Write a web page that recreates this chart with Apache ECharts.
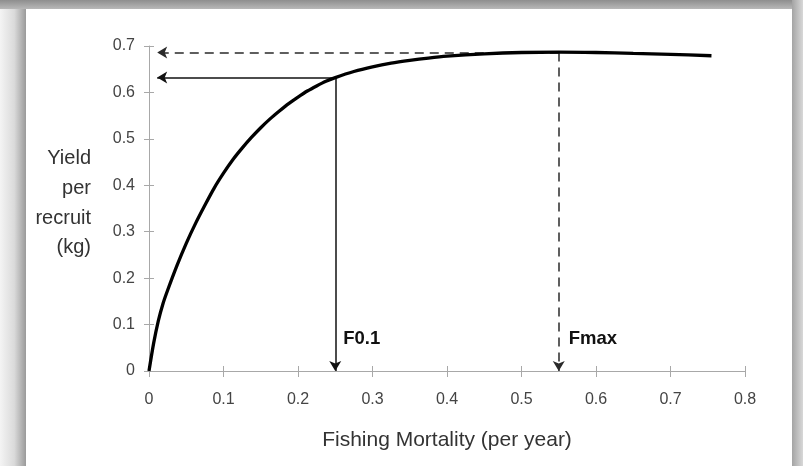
<!DOCTYPE html>
<html>
<head>
<meta charset="utf-8">
<script src="https://cdn.jsdelivr.net/npm/echarts@6/dist/echarts.min.js"></script>
<style>
html,body{margin:0;padding:0;background:#fff;}
#chart{width:803px;height:466px;}
</style>
</head>
<body>
<div id="chart"></div>
<script>
// ---- data ----
const fishingMortality = [0, 0.00625, 0.0125, 0.01875, 0.025, 0.0375, 0.05, 0.0625, 0.075, 0.0875, 0.1, 0.1125, 0.125, 0.1375, 0.15, 0.1625, 0.175, 0.1875, 0.2, 0.2125, 0.225, 0.2375, 0.25, 0.275, 0.3, 0.325, 0.35, 0.375, 0.4, 0.45, 0.5, 0.55, 0.6, 0.65, 0.7, 0.755];
const yieldPerRecruit = [0, 0.06, 0.108, 0.145, 0.174, 0.227, 0.275, 0.318, 0.357, 0.394, 0.426, 0.455, 0.480, 0.503, 0.524, 0.543, 0.560, 0.576, 0.590, 0.603, 0.614, 0.624, 0.632, 0.645, 0.655, 0.663, 0.669, 0.674, 0.678, 0.683, 0.686, 0.687, 0.686, 0.684, 0.682, 0.679];
const xTicks = [0, 0.1, 0.2, 0.3, 0.4, 0.5, 0.6, 0.7, 0.8];
const yTicks = [0, 0.1, 0.2, 0.3, 0.4, 0.5, 0.6, 0.7];
const refF = ['F0.1', 'Fmax'];
const refFValues = [0.25, 0.55];
const refYieldValues = [0.632, 0.686];
const arrowTipF = 0.011;
const xTitle = 'Fishing Mortality (per year)';
const yTitleLines = ['Yield', 'per', 'recruit', '(kg)'];

const curve = fishingMortality.map((f, i) => [f, yieldPerRecruit[i]]);

const FONT = '"Liberation Sans", Arial, Helvetica, sans-serif';
const gridLeft = 149, gridRight = 58, gridTop = 46, gridBottom = 95;
const W = 803, H = 466;
const gridW = W - gridLeft - gridRight, gridH = H - gridTop - gridBottom;

const solid = {color: '#111', width: 1.5, type: 'solid'};
const dashed = {color: '#2a2a2a', width: 1.5, type: [9, 6]};

const markLines = [
  [{coord: [refFValues[0], refYieldValues[0]], lineStyle: solid}, {coord: [refFValues[0], 0]}],
  [{coord: [refFValues[0], refYieldValues[0]], lineStyle: solid}, {coord: [arrowTipF, refYieldValues[0]]}],
  [{coord: [refFValues[1], refYieldValues[1]], lineStyle: dashed}, {coord: [refFValues[1], 0]}],
  [{coord: [refFValues[1], refYieldValues[1]], lineStyle: dashed}, {coord: [arrowTipF, refYieldValues[1]]}]
];

const axisLabelStyle = {color: '#444', fontSize: 16, fontFamily: FONT};
const tickStyle = {color: '#a8a8a8', width: 1};
const chart = echarts.init(document.getElementById('chart'), null, {renderer: 'canvas'});
chart.setOption({
  animation: false,
  backgroundColor: '#fff',
  textStyle: {fontFamily: FONT},
  graphic: [
    {type: 'rect', z: 0, shape: {x: 0, y: 0, width: 26, height: H},
      style: {fill: new echarts.graphic.LinearGradient(0, 0, 1, 0, [{offset: 0, color: '#f4f4f4'}, {offset: 0.55, color: '#dadada'}, {offset: 1, color: '#9a9a9a'}])}},
    {type: 'rect', z: 0, shape: {x: 0, y: 0, width: W, height: 9},
      style: {fill: new echarts.graphic.LinearGradient(0, 0, 0, 1, [{offset: 0, color: '#8e8e8e'}, {offset: 1, color: '#b8b8b8'}])}},
    {type: 'rect', z: 0, shape: {x: 792, y: 0, width: 11, height: H},
      style: {fill: new echarts.graphic.LinearGradient(0, 0, 1, 0, [{offset: 0, color: '#a4a4a4'}, {offset: 1, color: '#d8d8d8'}])}},
    {type: 'text', z: 10, x: 91, y: 144,
      style: {text: yTitleLines.join('\n'), fill: '#333', font: '20px ' + FONT, align: 'right', verticalAlign: 'top', lineHeight: 29.7}}
  ],
  grid: {left: gridLeft, right: gridRight, top: gridTop, bottom: gridBottom},
  xAxis: [{
    type: 'value', min: xTicks[0], max: xTicks[xTicks.length - 1], interval: 0.1,
    name: xTitle, nameLocation: 'middle', nameGap: 59,
    nameTextStyle: {color: '#333', fontSize: 21, fontFamily: FONT},
    axisLine: {show: true, lineStyle: {color: '#a8a8a8', width: 1}},
    axisTick: {show: true, length: 6, lineStyle: tickStyle},
    axisLabel: Object.assign({margin: 21}, axisLabelStyle),
    splitLine: {show: false}
  }, {
    type: 'value', position: 'top', offset: -gridH, min: xTicks[0], max: xTicks[xTicks.length - 1], interval: 0.1,
    axisLine: {show: false, onZero: false}, axisLabel: {show: false}, splitLine: {show: false},
    axisTick: {show: true, length: 5, lineStyle: tickStyle}
  }],
  yAxis: [{
    type: 'value', min: yTicks[0], max: yTicks[yTicks.length - 1], interval: 0.1,
    axisLine: {show: true, lineStyle: {color: '#a8a8a8', width: 1}},
    axisTick: {show: true, length: 5, lineStyle: tickStyle},
    axisLabel: Object.assign({margin: 14}, axisLabelStyle),
    splitLine: {show: false}
  }, {
    type: 'value', position: 'right', offset: -gridW, min: yTicks[0], max: yTicks[yTicks.length - 1], interval: 0.1,
    axisLine: {show: false, onZero: false}, axisLabel: {show: false}, splitLine: {show: false},
    axisTick: {show: true, length: 5, lineStyle: tickStyle}
  }],
  series: [{
    type: 'line', xAxisIndex: 0, yAxisIndex: 0,
    data: curve, smooth: 0.3, showSymbol: false, symbol: 'none',
    lineStyle: {color: '#000', width: 3.3},
    z: 5,
    markLine: {
      silent: true, symbol: ['none', 'arrow'], symbolSize: [9, 10],
      label: {show: false}, data: markLines, z: 4
    },
    markPoint: {
      silent: true, symbol: 'circle', symbolSize: 0,
      label: {show: true, position: 'right', distance: 0, color: '#111', fontWeight: 'bold', fontSize: 18.5, fontFamily: FONT},
      data: [
        {coord: [refFValues[0], 0.069], value: refF[0], label: {formatter: refF[0], offset: [8, 0]}},
        {coord: [refFValues[1], 0.069], value: refF[1], label: {formatter: refF[1], offset: [10, 0]}}
      ]
    }
  }]
});
</script>
</body>
</html>
